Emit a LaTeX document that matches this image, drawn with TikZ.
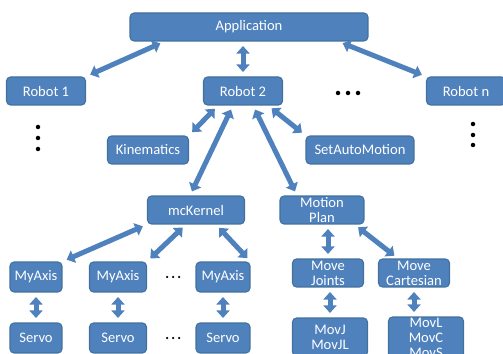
\documentclass[tikz,border=0pt]{standalone}
\usepackage{fontspec}
\setmainfont{Carlito}
\usetikzlibrary{arrows.meta}
\definecolor{boxblue}{HTML}{4F81BD}
\definecolor{edgeblue}{HTML}{41719C}

\tikzset{
  blk/.style={draw=edgeblue, fill=boxblue, text=white, rounded corners=0.08cm,
    inner sep=0pt, minimum height=0.56cm, align=center, line width=0.6pt,
    font=\fontsize{8.3}{8.5}\selectfont},
  arr/.style={draw=boxblue, line width=0.1cm,
    {Triangle[width=0.26cm,length=0.15cm]}-{Triangle[width=0.26cm,length=0.15cm]},
    shorten <=0.09cm, shorten >=0.09cm},
}

\begin{document}
\begin{tikzpicture}[x=0.02cm,y=-0.02cm]
\useasboundingbox (0,0) rectangle (503,354);
\clip (0,0) rectangle (503,354);

% top level
\node[blk,minimum width=4.76cm] (app) at (249,27) {Application};
\node[blk,minimum width=1.58cm] (rob1) at (46,91) {Robot 1};
\node[blk,minimum width=1.58cm] (rob2) at (243,91) {Robot 2};
\node[blk,minimum width=1.58cm] (robn) at (466,91) {Robot n};

% robot 2 parts
\node[blk,minimum width=1.62cm] (kin) at (148,150) {Kinematics};
\node[blk,minimum width=2.16cm] (sam) at (360,150) {SetAutoMotion};
\node[blk,minimum width=1.94cm] (mck) at (196,210) {mcKernel};
\node[blk,minimum width=1.68cm] (mplan) at (322,210) {Motion\\Plan};

% axes and servos
\node[blk,minimum width=1.04cm,minimum height=0.6cm] (ax1) at (36,277) {MyAxis};
\node[blk,minimum width=1.14cm,minimum height=0.6cm] (ax2) at (118,277) {MyAxis};
\node[blk,minimum width=1.08cm,minimum height=0.6cm] (ax3) at (223,277) {MyAxis};
\node[blk,minimum width=1.04cm,minimum height=0.6cm] (sv1) at (36,338) {Servo};
\node[blk,minimum width=1.14cm,minimum height=0.6cm] (sv2) at (118,338) {Servo};
\node[blk,minimum width=1.08cm,minimum height=0.6cm] (sv3) at (223,338) {Servo};

% motion plan
\node[blk,minimum width=1.42cm] (mj) at (328,273) {Move\\Joints};
\node[blk,minimum width=1.42cm] (mc) at (414,273) {Move\\Cartesian};
\node[blk,minimum width=1.5cm,minimum height=0.76cm] (movj) at (330,337) {MovJ\\MovJL};
\node[blk,minimum width=1.5cm,minimum height=0.84cm] (movl) at (426,338) {MovL\\MovC\\MovS};

% dots
\foreach \x in {338,348,358} \fill (\x,93) circle (0.045cm);
\foreach \y in {127,138,149} \fill (38,\y) circle (0.045cm);
\foreach \y in {124,135,145} \fill (473,\y) circle (0.045cm);
\foreach \x in {167,173,179} {
  \fill (\x,277) circle (0.025cm);
  \fill (\x,338) circle (0.025cm);
}

% arrows
\draw[arr] ([xshift=.7cm]app.south west) -- (rob1.north east);
\draw[arr] (app.south -| rob2) -- (rob2.north);
\draw[arr] ([xshift=-.6cm]app.south east) -- (robn.north west);

\draw[arr] ([xshift=.3cm]rob2.south west) -- (kin.north east);
\draw[arr] ([xshift=.6cm]rob2.south west) -- ([xshift=-.12cm]mck.north);
\draw[arr] ([xshift=-.6cm]rob2.south east) -- ([xshift=-.5cm]mplan.north);
\draw[arr] ([xshift=-.3cm]rob2.south east) -- (sam.north west);

\draw[arr] (mck.south west) -- (ax1.north east);
\draw[arr] ([xshift=-.2cm]mck.south) -- (ax2.north east);
\draw[arr] ([xshift=.4cm]mck.south) -- (ax3.north east);
\draw[arr] (mplan.south -| mj) -- (mj.north);
\draw[arr] ([xshift=-.2cm]mplan.south east) -- ([xshift=.4cm]mc.north west);

\draw[arr] (ax1.south) -- (sv1.north);
\draw[arr] (ax2.south) -- (sv2.north);
\draw[arr] (ax3.south) -- (sv3.north);
\draw[arr] (movj.north |- mj.south) -- (movj.north);
\draw[arr] (mc.south) -- (mc.south |- movl.north);

\end{tikzpicture}
\end{document}
